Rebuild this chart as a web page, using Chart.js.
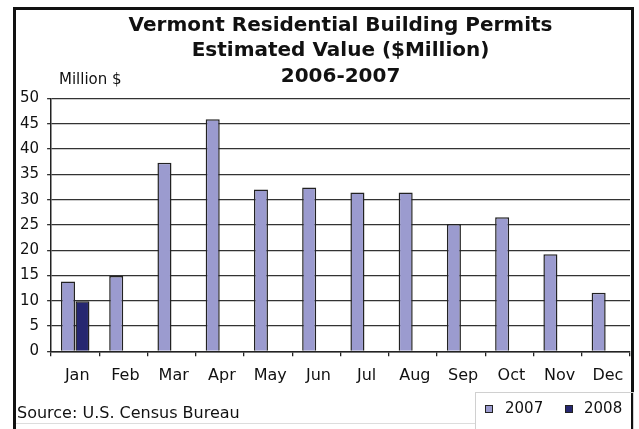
<!DOCTYPE html>
<html>
<head>
<meta charset="utf-8">
<script src="https://cdn.jsdelivr.net/npm/chart.js@4/dist/chart.umd.min.js"></script>
<style>
  html, body { margin: 0; padding: 0; background: #fff; }
  #wrap { position: relative; width: 639px; height: 429px; overflow: hidden; font-family: "DejaVu Sans", sans-serif; color: #111; }
  canvas { position: absolute; left: 0; top: 0; }
  #frame { position: absolute; left: 13px; top: 7px; width: 615px; height: 440px; border: 3px solid #111; }
  #linhaFonte { position: absolute; left: 16px; top: 423px; width: 459px; border-top: 1px solid #ddd; }
  #legendFrame { position: absolute; left: 475px; top: 392px; width: 157px; height: 60px; border: 1px solid #d0d0d0; }
  .abs { position: absolute; white-space: nowrap; }
  #unit { left: 59px; top: 71px; font-size: 15px; line-height: 17px; }
  #source { left: 17px; top: 404px; font-size: 16px; line-height: 18px; }
  .quad { position: absolute; width: 6px; height: 6px; border: 1px solid #222; top: 405px; }
  .leg { position: absolute; top: 400px; font-size: 15px; line-height: 17px; }
</style>
</head>
<body>
<div id="wrap">
  <canvas id="chart" width="639" height="429"></canvas>
  <div id="frame"></div>
  <div id="linhaFonte"></div>
  <div id="legendFrame"></div>
  <div id="unit" class="abs">Million $</div>
  <div id="source" class="abs">Source: U.S. Census Bureau</div>
  <div id="legenda"></div>
</div>
<script>
// dados
const meses = ['Jan', 'Feb', 'Mar', 'Apr', 'May', 'Jun', 'Jul', 'Aug', 'Sep', 'Oct', 'Nov', 'Dec'];
const valores2007 = [13.8, 14.9, 37.3, 45.9, 32.0, 32.4, 31.4, 31.4, 25.2, 26.5, 19.2, 11.6];
const valores2008 = [9.9, null, null, null, null, null, null, null, null, null, null, null];
const ticksY = [0, 5, 10, 15, 20, 25, 30, 35, 40, 45, 50];

const fonte = "'DejaVu Sans', sans-serif";
const cores = { '2007': '#9b9bcf', '2008': '#262770' };

const grafico = new Chart(document.getElementById('chart'), {
    type: 'bar',
    data: {
        labels: meses,
        datasets: [
            {
                label: '2007',
                data: valores2007,
                backgroundColor: cores['2007'],
                borderColor: '#222',
                borderWidth: 1.5,
                categoryPercentage: 0.6,
                barPercentage: 0.97
            },
            {
                label: '2008',
                data: valores2008,
                backgroundColor: cores['2008'],
                borderColor: '#222',
                borderWidth: 1.5,
                categoryPercentage: 0.6,
                barPercentage: 0.97
            }
        ]
    },
    options: {
        responsive: false,
        animation: false,
        layout: { padding: { left: 12, right: 9, top: 0, bottom: 33.5 } },
        plugins: {
            title: {
                display: true,
                fullSize: false,
                text: ['Vermont Residential Building Permits', 'Estimated Value ($Million)', '2006-2007'],
                color: '#111',
                font: { size: 20, weight: 'bold', family: fonte, lineHeight: 1.275 },
                padding: { top: 13, bottom: 9 }
            },
            legend: { display: false },
            tooltip: { enabled: false }
        },
        scales: {
            x: {
                grid: { drawOnChartArea: false, drawTicks: true, tickLength: 5, color: '#222', lineWidth: 1.3 },
                border: { display: true, color: '#222', width: 1.5 },
                ticks: { color: '#111', padding: 10, labelOffset: 2, font: { size: 16, family: fonte } }
            },
            y: {
                min: 0,
                max: 50,
                afterBuildTicks: (axis) => { axis.ticks = ticksY.map(v => ({ value: v })); },
                grid: { color: '#333', lineWidth: 1.3, tickLength: 4 },
                border: { display: true, color: '#222', width: 1.5 },
                ticks: { color: '#111', padding: 8, font: { size: 15, family: fonte } }
            }
        }
    }
});

// legenda em HTML, montada a partir dos datasets
const posLegenda = [{ quad: 485, texto: 505 }, { quad: 565, texto: 584 }];
const elLegenda = document.getElementById('legenda');
grafico.data.datasets.forEach((ds, i) => {
    const q = document.createElement('div');
    q.className = 'quad';
    q.style.left = posLegenda[i].quad + 'px';
    q.style.background = ds.backgroundColor;
    const t = document.createElement('div');
    t.className = 'leg';
    t.style.left = posLegenda[i].texto + 'px';
    t.innerText = ds.label;
    elLegenda.appendChild(q);
    elLegenda.appendChild(t);
});
</script>
</body>
</html>
